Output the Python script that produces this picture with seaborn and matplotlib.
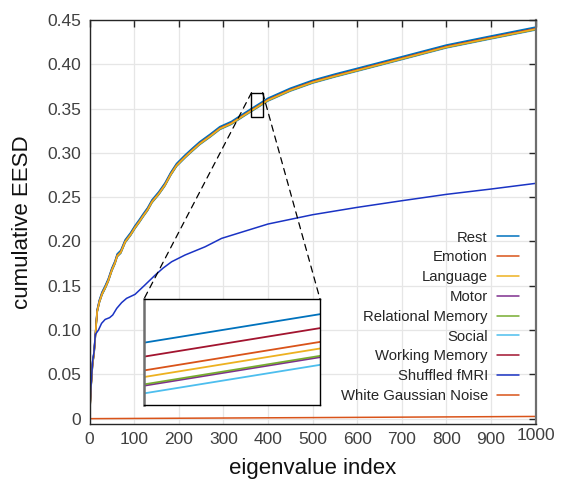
import numpy as np
import pandas as pd
import matplotlib
matplotlib.use("Agg")
import matplotlib.pyplot as plt
import matplotlib.transforms as mtransforms
from matplotlib.patches import Rectangle, ConnectionPatch
import seaborn as sns

# ---------------- data ----------------
task_x = [0, 3, 7, 10, 13, 17, 22, 28, 35, 42, 50, 57, 62, 70, 80, 92, 102, 112,
          120, 130, 140, 155, 169, 182, 195, 214, 230, 247, 270, 292, 318, 347,
          400, 450, 500, 550, 600, 700, 800, 900, 1000]
task_base = [0.0, 0.035, 0.065, 0.075, 0.095, 0.123, 0.134, 0.143, 0.150, 0.158,
             0.170, 0.178, 0.186, 0.190, 0.202, 0.210, 0.218, 0.225, 0.231, 0.238,
             0.247, 0.256, 0.266, 0.278, 0.288, 0.2976, 0.305, 0.3126, 0.321,
             0.3296, 0.3355, 0.345, 0.3618, 0.373, 0.382, 0.389, 0.3955, 0.4086,
             0.4218, 0.432, 0.442]
task_names = ["Rest", "Emotion", "Language", "Motor", "Relational Memory",
              "Social", "Working Memory"]
# small vertical separations of the task curves
task_offsets = [0.0, -0.00185, -0.00229, -0.00287, -0.00278, -0.00338, -0.00093]

shuffled_x = [0, 3, 7, 10, 13, 20, 27, 35, 45, 52, 61, 72, 83, 102, 124, 147, 165,
              184, 214, 259, 296, 337, 400, 500, 600, 700, 800, 900, 1000]
shuffled_y = [0.0, 0.035, 0.065, 0.075, 0.095, 0.100, 0.1076, 0.112, 0.114, 0.117,
              0.1245, 0.131, 0.1358, 0.1403, 0.1508, 0.162, 0.170, 0.1771, 0.1847,
              0.194, 0.2035, 0.2099, 0.2197, 0.2302, 0.2385, 0.246, 0.2532, 0.2592,
              0.2656]

wgn_x = [0, 500, 1000]
wgn_y = [0.0, 0.0012, 0.0025]

all_names = task_names + ["Shuffled fMRI", "White Gaussian Noise"]
colors = ["#0072BD", "#D95319", "#EDB120", "#7E2F8E", "#77AC30", "#4DBEEE",
          "#A2142F", "#1a33c4", "#D95319"]
draw_order = ["Social", "Motor", "Relational Memory", "Working Memory", "Rest",
              "Emotion", "Language", "Shuffled fMRI", "White Gaussian Noise"]

x_ticks = [0, 100, 200, 300, 400, 500, 600, 700, 800, 900, 1000]
y_ticks = [0, 0.05, 0.10, 0.15, 0.20, 0.25, 0.30, 0.35, 0.40, 0.45]
y_tick_labels = ["0", "0.05", "0.10", "0.15", "0.20", "0.25", "0.30", "0.35",
                 "0.40", "0.45"]

zoom_x = (363, 388)
zoom_y = (0.341, 0.368)
inset_xlim = (372, 378)
inset_ylim = (0.34877, 0.35584)

# ---------------- build long table ----------------
rows = []
for name, off in zip(task_names, task_offsets):
    for x, y in zip(task_x, task_base):
        rows.append((name, x, y + off))
for x, y in zip(shuffled_x, shuffled_y):
    rows.append(("Shuffled fMRI", x, y))
for x, y in zip(wgn_x, wgn_y):
    rows.append(("White Gaussian Noise", x, y))
df = pd.DataFrame(rows, columns=["series", "index", "eesd"])
color_of = dict(zip(all_names, colors))

# ---------------- styling ----------------
sns.set_theme(style="white")
plt.rcParams["font.family"] = ["Liberation Sans", "DejaVu Sans"]
dark = "#262626"

fig = plt.figure(figsize=(5.62, 4.83), dpi=100)
ax = fig.add_axes([0.1593, 0.1222, 0.7939, 0.8364])

for name in draw_order:
    sub = df[df["series"] == name]
    sns.lineplot(data=sub, x="index", y="eesd", color=color_of[name], lw=1.1,
                 ax=ax, label=name, estimator=None, sort=False)

ax.set_xlim(0, 1000)
ax.set_ylim(-0.006, 0.45)
ax.set_xticks(x_ticks)
ax.set_xticklabels([str(t) for t in x_ticks])
ax.set_yticks(y_ticks)
ax.set_yticklabels(y_tick_labels)
ax.grid(True, color="#e6e6e6", lw=0.9)
ax.set_axisbelow(True)
ax.tick_params(axis="both", which="major", direction="in", length=5, width=1,
               color=dark, labelcolor="#404040", labelsize=12.5,
               top=True, right=True, pad=6)
for side in ["left", "top", "bottom"]:
    ax.spines[side].set_color(dark)
    ax.spines[side].set_linewidth(1.0)
ax.spines["right"].set_color("#6e6e6e")
ax.spines["right"].set_linewidth(1.6)
ax.set_xlabel("eigenvalue index", fontsize=16, color="#111111", labelpad=8)
ax.set_ylabel("cumulative EESD", fontsize=16, color="#111111", labelpad=10)

# MATLAB-like quirk: last x label slightly raised
lab = ax.get_xticklabels()[-1]
lab.set_transform(lab.get_transform() +
                  mtransforms.ScaledTranslation(0, 3 / 72, fig.dpi_scale_trans))

handles, labels = ax.get_legend_handles_labels()
hmap = dict(zip(labels, handles))
leg = ax.legend([hmap[n] for n in all_names], all_names, loc="lower right",
                bbox_to_anchor=(0.9627, 0.052), markerfirst=False, frameon=False,
                fontsize=10.7, handlelength=1.5, handletextpad=0.6,
                labelspacing=0.39, borderpad=0, borderaxespad=0)
for t in leg.get_texts():
    t.set_color("#262626")

# zoom rectangle
ax.add_patch(Rectangle((zoom_x[0], zoom_y[0]), zoom_x[1] - zoom_x[0],
                       zoom_y[1] - zoom_y[0], fill=False, ec="black", lw=1.0,
                       zorder=5))

# inset
axin = fig.add_axes([0.2562, 0.1615, 0.3132, 0.2195])
axin.set_facecolor("white")
for name in task_names:
    sub = df[df["series"] == name]
    sns.lineplot(data=sub, x="index", y="eesd", color=color_of[name], lw=1.3,
                 ax=axin, estimator=None, sort=False, legend=False)
axin.set_xlim(*inset_xlim)
axin.set_ylim(*inset_ylim)
axin.set_xticks([])
axin.set_yticks([])
axin.set_xlabel("")
axin.set_ylabel("")
axin.grid(False)
for side in ["right", "top", "bottom"]:
    axin.spines[side].set_color("black")
    axin.spines[side].set_linewidth(1.0)
axin.spines["left"].set_color("#6e6e6e")
axin.spines["left"].set_linewidth(1.8)

for xa, xb in [(zoom_x[0], 0.0), (zoom_x[1], 1.0)]:
    con = ConnectionPatch(xyA=(xa, zoom_y[1]), coordsA="data", axesA=ax,
                          xyB=(xb, 1.0), coordsB="axes fraction", axesB=axin,
                          color="black", lw=0.9, linestyle=(0, (5, 4)))
    fig.add_artist(con)

fig.savefig("out.png", dpi=100)
